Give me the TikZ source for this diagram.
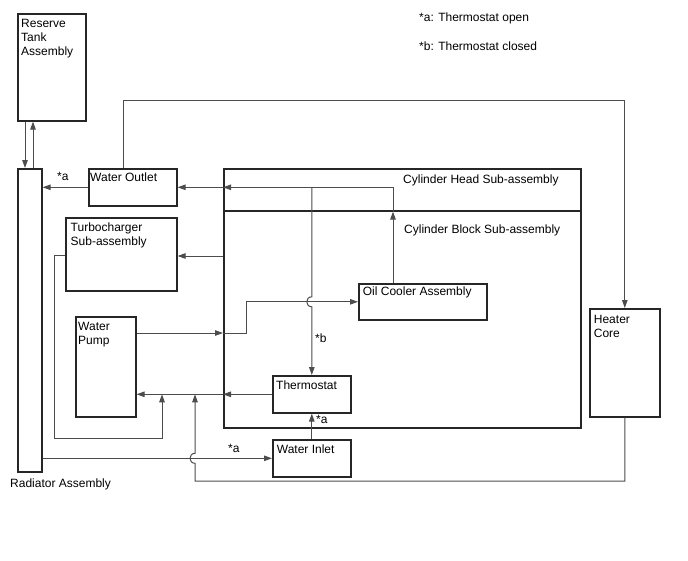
\documentclass[tikz,border=0pt]{standalone}
\usepackage{fontspec}
\setmainfont{Liberation Sans}
\usetikzlibrary{arrows.meta,calc}
\begin{document}
\begin{tikzpicture}[x=1pt,y=-1pt,
  box/.style={draw=black!85, line width=1.6pt, anchor=north west, inner sep=0pt},
  txt/.style={anchor=north west, inner sep=0pt, align=left, font=\fontsize{12}{14}\selectfont},
  lbl/.style={anchor=base west, inner sep=0pt, font=\fontsize{12}{14}\selectfont},
  conn/.style={draw=black!70, line width=1pt},
  arr/.style={conn, -{Triangle[length=8pt,width=5.5pt]}},
]
\useasboundingbox (0,0) rectangle (688,560);
% boxes
\node[box, minimum width=68pt, minimum height=107pt] (reserve) at (17,13) {};
\node[box, minimum width=24pt, minimum height=303pt] (radiator) at (17,168) {};
\node[box, minimum width=88pt, minimum height=37pt] (wout) at (88,168) {};
\node[box, minimum width=111pt, minimum height=73pt] (turbo) at (65,217) {};
\node[box, minimum width=60pt, minimum height=100pt] (pump) at (75,316) {};
\node[box, minimum width=357pt, minimum height=42pt] (head) at (223,168) {};
\node[box, minimum width=357pt, minimum height=217pt] (block) at (223,210) {};
\node[box, minimum width=128pt, minimum height=36pt] (oil) at (358,283) {};
\node[box, minimum width=78pt, minimum height=37pt] (thermo) at (272,375) {};
\node[box, minimum width=78pt, minimum height=37pt] (winlet) at (272,439) {};
\node[box, minimum width=70pt, minimum height=108pt] (heater) at (589,308) {};
% box texts
\node[txt] (treserve) at ($(reserve.north west)+(4,6.5)$) {Reserve\\Tank\\Assembly};
\node[txt] (twout) at ($(wout.north west)+(2,5)$) {Water Outlet};
\node[txt] (tturbo) at ($(turbo.north west)+(5.5,6)$) {Turbocharger\\Sub-assembly};
\node[txt] (tpump) at ($(pump.north west)+(3,6)$) {Water\\Pump};
\node[txt] (toil) at ($(oil.north west)+(4.7,4)$) {Oil Cooler Assembly};
\node[txt] (tthermo) at ($(thermo.north west)+(4,6)$) {Thermostat};
\node[txt] (twinlet) at ($(winlet.north west)+(4.7,5.5)$) {Water Inlet};
\node[txt] (theater) at ($(heater.north west)+(4.7,7.5)$) {Heater\\Core};
\node[lbl] (thead) at (403,183) {Cylinder Head Sub-assembly};
\node[lbl] (tblock) at (404,233) {Cylinder Block Sub-assembly};
\node[lbl] (trad) at (10,487) {Radiator Assembly};
\node[lbl] (lega) at (419,21) {*a: Thermostat open};
\node[lbl] (legb) at (419,50) {*b: Thermostat closed};
% connectors
\draw[arr] ([xshift=8pt]reserve.south west) -- ([xshift=8pt]radiator.north west);
\draw[arr] ([xshift=16pt]radiator.north west) -- ([xshift=16pt]reserve.south west);
\draw[arr] (wout.west) -- (wout.west -| radiator.east);
\node[lbl] (sa1) at (57,180) {*a};
\draw[arr] (wout.east -| head.west) -- (wout.east);
\coordinate (ocx) at ($(oil.north west)+(35,0)$);
\draw[arr] (ocx) -- (ocx |- head.south);
\draw[arr] (ocx |- head.south) -- (ocx |- wout.east) -- (wout.east -| head.west);
% head to thermostat with hop
\coordinate (x1) at (thermo.north |- oil.west);
\draw[arr] (thermo.north |- wout.east) -- ($(x1)+(0,-5)$) .. controls +(-6.67,0) and +(-6.67,0) .. ($(x1)+(0,5)$) -- (thermo.north);
\node[lbl] (sb) at (315,342) {*b};
% pump to oil cooler
\coordinate (pp) at ($(pump.north east)+(0,17)$);
\draw[arr] (pp) -- (pp -| block.west);
\draw[arr] (pp -| block.west) -- ++(23,0) |- (oil.west);
% block to turbo
\draw[arr] ($(block.west |- turbo.north)+(0,39)$) -- ($(turbo.north east)+(0,39)$);
% thermostat to pump
\draw[arr] (thermo.west) -- (thermo.west -| block.west);
\draw[arr] (thermo.west -| block.west) -- (thermo.west -| pump.east);
% turbo return
\coordinate (tr) at ($(turbo.north west)+(0,38)$);
\coordinate (m1) at (162,438);
\draw[arr] (tr) -- ++(-11,0) |- (m1) -- (m1 |- thermo.west);
% heater return with hop
\coordinate (m2) at (195,481);
\coordinate (x2) at (m2 |- winlet.west);
\draw[arr] (heater.south) -- (heater.south |- m2) -- (m2) -- ($(x2)+(0,5)$) .. controls +(-6.67,0) and +(-6.67,0) .. ($(x2)+(0,-5)$) -- (m2 |- thermo.west);
% radiator to water inlet
\draw[arr] (winlet.west -| radiator.east) -- (winlet.west);
\node[lbl] (sa2) at (228,452) {*a};
% water inlet to thermostat
\draw[arr] (winlet.north) -- (thermo.south);
\node[lbl] (sa3) at (316,423) {*a};
% water outlet to heater core
\coordinate (m3) at ($(wout.north west)+(35,0)$);
\draw[arr] (m3) -- ++(0,-68) -| (heater.north);
\end{tikzpicture}
\end{document}
